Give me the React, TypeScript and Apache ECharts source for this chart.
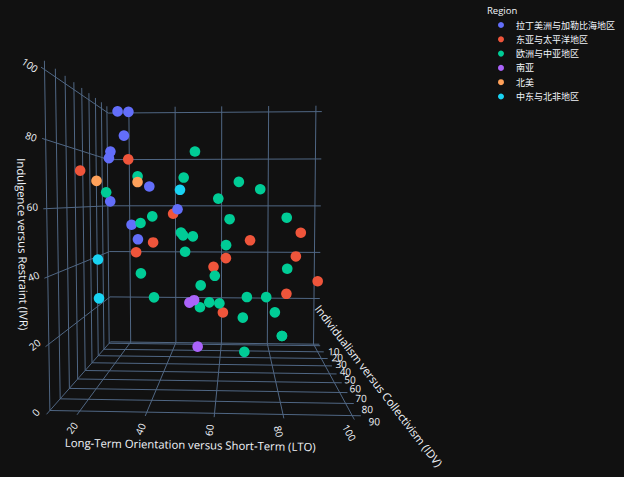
import React, { useEffect, useRef } from "react";
import * as echarts from "echarts";

// Regions (legend order) and Plotly default colours
const regionNames = [
  "拉丁美洲与加勒比海地区",
  "东亚与太平洋地区",
  "欧洲与中亚地区",
  "南亚",
  "北美",
  "中东与北非地区",
];
const regionColors = ["#636efa", "#EF553B", "#00cc96", "#ab63fa", "#FFA15A", "#19d3f3"];

// [country, LTO, IDV, IVR]
type Row = [string, number, number, number];
const latinAmericaCaribbean: Row[] = [
  ["Venezuela", 16, 12, 100],
  ["Mexico", 24, 30, 97],
  ["El Salvador", 20, 19, 89],
  ["Colombia", 13, 13, 83],
  ["Trinidad and Tobago", 13, 16, 80],
  ["Chile", 31, 23, 68],
  ["Argentina", 20, 46, 62],
  ["Brazil", 44, 38, 59],
  ["Uruguay", 26, 36, 53],
  ["Peru", 25, 16, 46],
];
const eastAsiaPacific: Row[] = [
  ["Australia", 21, 90, 71],
  ["New Zealand", 33, 79, 75],
  ["Malaysia", 41, 26, 57],
  ["Thailand", 32, 20, 45],
  ["Philippines", 27, 32, 42],
  ["Singapore", 72, 20, 46],
  ["Taiwan", 93, 17, 49],
  ["Japan", 88, 46, 42],
  ["Vietnam", 57, 20, 35],
  ["Indonesia", 62, 14, 38],
  ["South Korea", 100, 18, 29],
  ["China", 87, 20, 24],
  ["Hong Kong", 61, 25, 17],
];
const europeCentralAsia: Row[] = [
  ["Sweden", 53, 71, 78],
  ["Denmark", 35, 74, 70],
  ["United Kingdom", 51, 89, 69],
  ["Netherlands", 67, 80, 68],
  ["Switzerland", 74, 68, 66],
  ["Ireland", 24, 70, 65],
  ["Austria", 60, 55, 63],
  ["Finland", 38, 63, 57],
  ["Belgium", 82, 75, 57],
  ["Luxembourg", 64, 60, 56],
  ["Norway", 35, 69, 55],
  ["Greece", 45, 35, 50],
  ["Turkey", 46, 37, 49],
  ["Slovenia", 49, 27, 48],
  ["France", 63, 71, 48],
  ["Spain", 48, 51, 44],
  ["Germany", 83, 67, 40],
  ["Croatia", 58, 33, 33],
  ["Portugal", 28, 27, 33],
  ["Hungary", 58, 80, 31],
  ["Italy", 61, 76, 30],
  ["Poland", 38, 60, 29],
  ["Czech Republic", 70, 58, 29],
  ["Slovakia", 77, 52, 28],
  ["Serbia", 52, 25, 28],
  ["Romania", 52, 30, 20],
  ["Russia", 81, 39, 20],
  ["Bulgaria", 69, 30, 16],
  ["Estonia", 82, 60, 16],
  ["Lithuania", 82, 60, 16],
  ["Latvia", 69, 70, 13],
];
const southAsia: Row[] = [
  ["India", 51, 48, 26],
  ["Bangladesh", 47, 20, 20],
  ["Pakistan", 50, 14, 0],
];
const northAmerica: Row[] = [
  ["United States", 26, 91, 68],
  ["Canada", 36, 80, 68],
];
const middleEastNorthAfrica: Row[] = [
  ["Malta", 47, 59, 66],
  ["Iran", 14, 41, 40],
  ["Lebanon", 14, 40, 25],
];
const regionData = [
  latinAmericaCaribbean,
  eastAsiaPacific,
  europeCentralAsia,
  southAsia,
  northAmerica,
  middleEastNorthAfrica,
];

// Axis ticks and ranges
const ltoTicks = [20, 40, 60, 80, 100];
const idvTicks = [10, 20, 30, 40, 50, 60, 70, 80, 90];
const ivrTicks = [0, 20, 40, 60, 80, 100];
const ltoRange = [11, 102.5];
const idvRange = [7.5, 93];
const ivrRange = [0, 102.5];

const axisTitles = [
  "Long-Term Orientation versus Short-Term (LTO)",
  "Individualism versus Collectivism (IDV)",
  "Indulgence versus Restraint (IVR)",
];

// Perspective camera (data units)
const camera = {
  eye: [66, 254.5, 62.5],
  target: [56.75, 50.25, 51.25],
  focal: 571.6,
  screenCenter: [209.6, 231.5],
};

const FONT = '"Open Sans", "Noto Sans CJK SC", sans-serif';
const TEXT = "#f2f5fa";
const GRID = "#506784";

function makeProjector() {
  const [ex, ey, ez] = camera.eye;
  const [tx, ty, tz] = camera.target;
  let fx = tx - ex, fy = ty - ey, fz = tz - ez;
  const fl = Math.hypot(fx, fy, fz);
  fx /= fl; fy /= fl; fz /= fl;
  let rx = -fy, ry = fx;
  const rl = Math.hypot(rx, ry);
  rx /= rl; ry /= rl;
  const ux = -fz * ry, uy = fz * rx, uz = fx * ry - fy * rx;
  const f = camera.focal;
  const [cx, cy] = camera.screenCenter;
  return (L: number, I: number, V: number) => {
    const vx = L - ex, vy = I - ey, vz = V - ez;
    const zc = vx * fx + vy * fy + vz * fz;
    const xc = vx * rx + vy * ry;
    const yc = vx * ux + vy * uy + vz * uz;
    return [cx + (f * xc) / zc, cy - (f * yc) / zc, zc];
  };
}

function readableRotation(dx: number, dy: number) {
  let t = Math.atan2(dy, dx);
  if (t > Math.PI / 2) t -= Math.PI;
  if (t <= -Math.PI / 2) t += Math.PI;
  return -t;
}

export default function App() {
  const ref = useRef<HTMLDivElement>(null);
  useEffect(() => {
    if (!ref.current) return;
    const chart = echarts.init(ref.current, null, { renderer: "svg" });
    const P = makeProjector();
    const [L0, L1] = ltoRange;
    const [I0, I1] = idvRange;
    const [V0, V1] = ivrRange;

    // grid segments: family 0 back-LTO, 1 back-IVR, 2 left-IDV, 3 left-IVR, 4 floor-LTO, 5 floor-IDV
    const gridRows: number[][] = [];
    ltoTicks.forEach((t) => { gridRows.push([0, t]); gridRows.push([4, t]); });
    ivrTicks.forEach((t) => { gridRows.push([1, t]); gridRows.push([3, t]); });
    idvTicks.forEach((t) => { gridRows.push([2, t]); gridRows.push([5, t]); });
    const segEnds = (fam: number, t: number) => {
      switch (fam) {
        case 0: return [P(t, I0, V0), P(t, I0, V1)];
        case 1: return [P(L0, I0, t), P(L1, I0, t)];
        case 2: return [P(L0, t, V0), P(L0, t, V1)];
        case 3: return [P(L0, I0, t), P(L0, I1, t)];
        case 4: return [P(t, I0, V0), P(t, I1, V0)];
        default: return [P(L0, t, V0), P(L1, t, V0)];
      }
    };

    const tickRows: number[][] = [];
    ltoTicks.forEach((t) => tickRows.push([0, t]));
    idvTicks.forEach((t) => tickRows.push([1, t]));
    ivrTicks.forEach((t) => tickRows.push([2, t]));
    const tickLabel = (axis: number, t: number) => {
      if (axis === 0) {
        const a = P(t, I1, V0), b = P(t, I0, V0);
        return { x: a[0] - 5, y: a[1] + 13, rot: readableRotation(b[0] - a[0], b[1] - a[1]) };
      } else if (axis === 1) {
        const a = P(L1, t, V0), b = P(L0, t, V0);
        return { x: a[0] + 13.5, y: a[1] + 5.5, rot: readableRotation(a[0] - b[0], a[1] - b[1]) };
      }
      const a = P(L0, I1, t), b = P(L0, I0, t);
      return { x: a[0] - 11, y: a[1] - 2, rot: readableRotation(b[0] - a[0], b[1] - a[1]) };
    };

    // axis titles
    const ltoA = P(L0, I1, V0), ltoB = P(L1, I1, V0), ltoM = P((L0 + L1) / 2, I1, V0);
    const idvM = P(L1 + 15, (I0 + I1) / 2, V0 - 4);
    const idvA = P(L1 + 15, (I0 + I1) / 2 - 10, V0 - 4), idvB = P(L1 + 15, (I0 + I1) / 2 + 10, V0 - 4);
    const ivrA = P(L0, I1, V1), ivrB = P(L0, I1, V0), ivrM = P(L0, I1, (V0 + V1) / 2);
    const titleStyle = { fill: TEXT, fontSize: 11.3, fontFamily: FONT, align: "center", verticalAlign: "middle" };

    const pointSeries = regionData.map((rows, k) => ({
      type: "custom",
      name: regionNames[k],
      coordinateSystem: "none",
      itemStyle: { color: regionColors[k] },
      data: rows.map((r) => ({ name: r[0], value: [r[1], r[2], r[3]] })),
      renderItem: (_p: any, api: any) => {
        const q = P(api.value(0), api.value(1), api.value(2));
        return {
          type: "circle",
          shape: { cx: q[0], cy: q[1], r: 5.3 },
          style: { fill: regionColors[k] },
          z2: Math.round(100000 - q[2] * 100),
        };
      },
    }));

    chart.setOption({
      animation: false,
      backgroundColor: "#111111",
      title: {
        text: "Region",
        left: 487,
        top: 6,
        padding: 0,
        textStyle: { color: TEXT, fontSize: 9.5, fontWeight: "normal", fontFamily: FONT },
      },
      legend: {
        data: regionNames,
        orient: "vertical",
        left: 498,
        top: 19,
        padding: 0,
        itemWidth: 20,
        itemHeight: 6,
        itemGap: 2.3,
        icon: "circle",
        selectedMode: false,
        textStyle: { color: TEXT, fontSize: 9, fontFamily: FONT, lineHeight: 12 },
      },
      graphic: [
        {
          type: "text",
          x: ltoM[0] - 12.6,
          y: ltoM[1] + 27.5,
          rotation: readableRotation(ltoB[0] - ltoA[0], ltoB[1] - ltoA[1]),
          style: { ...titleStyle, text: axisTitles[0] },
        },
        {
          type: "text",
          x: idvM[0],
          y: idvM[1],
          rotation: readableRotation(idvB[0] - idvA[0], idvB[1] - idvA[1]),
          style: { ...titleStyle, text: axisTitles[1] },
        },
        {
          type: "text",
          x: ivrM[0] - 21,
          y: ivrM[1] + 5,
          rotation: readableRotation(ivrB[0] - ivrA[0], ivrB[1] - ivrA[1]),
          style: { ...titleStyle, text: axisTitles[2] },
        },
      ],
      series: [
        {
          type: "custom",
          name: "grid",
          coordinateSystem: "none",
          z: 1,
          silent: true,
          data: gridRows,
          renderItem: (_p: any, api: any) => {
            const [a, b] = segEnds(api.value(0), api.value(1));
            return {
              type: "line",
              shape: { x1: a[0], y1: a[1], x2: b[0], y2: b[1] },
              style: { stroke: GRID, lineWidth: 1 },
            };
          },
        },
        {
          type: "custom",
          name: "ticks",
          coordinateSystem: "none",
          z: 1,
          silent: true,
          data: tickRows,
          renderItem: (_p: any, api: any) => {
            const axis = api.value(0), t = api.value(1);
            const l = tickLabel(axis, t);
            return {
              type: "text",
              x: l.x,
              y: l.y,
              rotation: l.rot,
              style: {
                text: String(t),
                fill: TEXT,
                fontSize: 10,
                fontFamily: FONT,
                align: "center",
                verticalAlign: "middle",
              },
            };
          },
        },
        ...pointSeries,
      ],
    } as any);
    return () => chart.dispose();
  }, []);
  return (
    <div
      ref={ref}
      style={{ position: "fixed", left: 0, top: 0, width: 624, height: 477, background: "#111111" }}
    />
  );
}
